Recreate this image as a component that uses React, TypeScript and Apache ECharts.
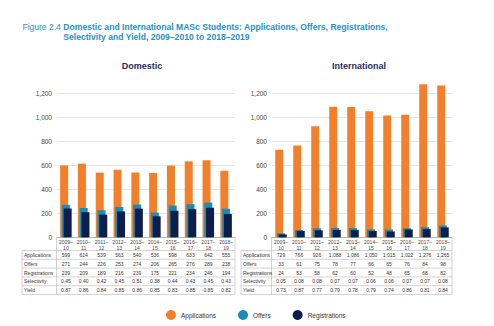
import React, { useEffect, useRef } from 'react';
import * as echarts from 'echarts';

const years = ['2009–\n10', '2010–\n11', '2011–\n12', '2012–\n13', '2013–\n14', '2014–\n15', '2015–\n16', '2016–\n17', '2017–\n18', '2018–\n19'];
const yTicks = [0, 200, 400, 600, 800, 1000, 1200];

const domApplications = [599, 614, 539, 563, 540, 536, 598, 633, 642, 555];
const domOffers = [271, 244, 226, 253, 274, 206, 265, 276, 289, 238];
const domRegistrations = [239, 209, 189, 216, 239, 175, 221, 234, 246, 194];
const domSelectivity = [0.45, 0.40, 0.42, 0.45, 0.51, 0.38, 0.44, 0.43, 0.45, 0.43];
const domYield = [0.87, 0.86, 0.84, 0.85, 0.86, 0.85, 0.83, 0.85, 0.85, 0.82];

const intApplications = [729, 766, 926, 1088, 1086, 1050, 1015, 1022, 1276, 1265];
const intOffers = [33, 61, 75, 78, 77, 66, 65, 76, 84, 98];
const intRegistrations = [24, 53, 58, 62, 60, 52, 48, 65, 68, 82];
const intSelectivity = [0.05, 0.08, 0.08, 0.07, 0.07, 0.06, 0.06, 0.07, 0.07, 0.08];
const intYield = [0.73, 0.87, 0.77, 0.79, 0.78, 0.79, 0.74, 0.86, 0.81, 0.84];

const rowNames = ['Applications', 'Offers', 'Registrations', 'Selectivity', 'Yield'];
const seriesNames = ['Applications', 'Offers', 'Registrations'];

const FONT = '"Liberation Sans", Arial, Helvetica, sans-serif';
const C_APP = '#f47f2a';
const C_OFF = '#1b8cb5';
const C_REG = '#0c1f4c';
const TITLE_BLUE = '#2a90c2';

export default function App() {
  const ref = useRef<HTMLDivElement>(null);
  useEffect(() => {
    const chart = echarts.init(ref.current!, null, { renderer: 'svg' });
    const grids = [
      { left: 57, top: 93.3, width: 178, height: 144 },
      { left: 272, top: 93.3, width: 180, height: 144 },
    ];
    const mkX = (g: number) => ({
      type: 'category' as const,
      gridIndex: g,
      data: years,
      axisTick: { show: false },
      axisLine: { show: true, lineStyle: { color: '#aaa', width: 0.8 } },
      axisLabel: { interval: 0, fontSize: 5, color: '#444', fontFamily: FONT, lineHeight: 5.6, margin: 2 },
    });
    const mkY = (g: number) => ({
      type: 'value' as const,
      gridIndex: g,
      min: yTicks[0],
      max: yTicks[yTicks.length - 1],
      interval: 200,
      axisLine: { show: false },
      axisTick: { show: false },
      splitLine: { lineStyle: { color: '#dedede', width: 0.8 } },
      axisLabel: {
        fontSize: 6.5, color: '#444', fontFamily: FONT, margin: 5,
        formatter: (v: number) => v.toLocaleString('en-US'),
      },
    });
    const groups = [
      [domApplications, domOffers, domRegistrations],
      [intApplications, intOffers, intRegistrations],
    ];
    const colors = [C_APP, C_OFF, C_REG];
    const series: any[] = [];
    groups.forEach((grp, g) => {
      grp.forEach((vals, k) => {
        series.push({
          type: 'bar', name: seriesNames[k], xAxisIndex: g, yAxisIndex: g,
          data: vals, barWidth: 8, barGap: '-78%', clip: false,
          itemStyle: { color: colors[k] },
        });
      });
    });
    chart.setOption({
      animation: false,
      backgroundColor: '#fff',
      grid: grids,
      xAxis: [mkX(0), mkX(1)],
      yAxis: [mkY(0), mkY(1)],
      legend: {
        data: seriesNames, left: 161, top: 305, icon: 'circle',
        itemWidth: 10, itemHeight: 10, itemGap: 22,
        textStyle: { fontSize: 6.5, color: '#333', fontFamily: FONT },
      },
      series,
    });

    const tables = [
      { rows: [domApplications, domOffers, domRegistrations, domSelectivity, domYield], labelLeft: 22 },
      { rows: [intApplications, intOffers, intRegistrations, intSelectivity, intYield], labelLeft: 241 },
    ];
    const graphic: any[] = [];
    const axisY = grids[0].top + grids[0].height;
    const rowTop = 250.5;
    const rowH = 8.8;
    tables.forEach((t, g) => {
      const gl = grids[g].left - 0.5;
      const gr = grids[g].left + grids[g].width;
      const lineStyle = { stroke: '#b5b5b5', lineWidth: 0.6 };
      for (let r = 0; r <= rowNames.length; r++) {
        const y = rowTop + r * rowH;
        graphic.push({ type: 'line', silent: true, shape: { x1: t.labelLeft, y1: y, x2: gr, y2: y }, style: lineStyle });
      }
      const bottom = rowTop + rowNames.length * rowH;
      graphic.push({ type: 'line', silent: true, shape: { x1: t.labelLeft, y1: rowTop, x2: t.labelLeft, y2: bottom }, style: lineStyle });
      graphic.push({ type: 'line', silent: true, shape: { x1: gl, y1: axisY, x2: gl, y2: bottom }, style: lineStyle });
      graphic.push({ type: 'line', silent: true, shape: { x1: gr, y1: axisY, x2: gr, y2: bottom }, style: lineStyle });
      rowNames.forEach((name, r) => {
        const cy = rowTop + (r + 0.5) * rowH;
        graphic.push({
          type: 'text', silent: true, x: t.labelLeft + 2, y: cy,
          style: { text: name, fontSize: 5, fill: '#333', fontFamily: FONT, align: 'left', verticalAlign: 'middle' },
        });
        t.rows[r].forEach((v, i) => {
          const px = chart.convertToPixel({ xAxisIndex: g }, i) as number;
          const txt = r < 3 ? v.toLocaleString('en-US') : v.toFixed(2);
          graphic.push({
            type: 'text', silent: true, x: px, y: cy,
            style: { text: txt, fontSize: 5, fill: '#333', fontFamily: FONT, align: 'center', verticalAlign: 'middle' },
          });
        });
      });
    });

    graphic.push({
      type: 'text', silent: true, x: 22.5, y: 26.7,
      style: { text: 'Figure 2.4', fontSize: 8.5, fill: TITLE_BLUE, fontFamily: FONT, align: 'left', verticalAlign: 'middle' },
    });
    graphic.push({
      type: 'text', silent: true, x: 63.3, y: 26.7,
      style: { text: 'Domestic and International MASc Students: Applications, Offers, Registrations,', fontSize: 8.6, fontWeight: 'bold', fill: TITLE_BLUE, fontFamily: FONT, align: 'left', verticalAlign: 'middle' },
    });
    graphic.push({
      type: 'text', silent: true, x: 63.3, y: 36.7,
      style: { text: 'Selectivity and Yield, 2009–2010 to 2018–2019', fontSize: 8.6, fontWeight: 'bold', fill: TITLE_BLUE, fontFamily: FONT, align: 'left', verticalAlign: 'middle' },
    });
    graphic.push({
      type: 'text', silent: true, x: 142, y: 66,
      style: { text: 'Domestic', fontSize: 9, fontWeight: 'bold', fill: '#1f2d5c', fontFamily: FONT, align: 'center', verticalAlign: 'middle' },
    });
    graphic.push({
      type: 'text', silent: true, x: 359, y: 66,
      style: { text: 'International', fontSize: 9, fontWeight: 'bold', fill: '#1f2d5c', fontFamily: FONT, align: 'center', verticalAlign: 'middle' },
    });

    chart.setOption({ graphic });
    return () => chart.dispose();
  }, []);
  return <div ref={ref} style={{ position: 'absolute', left: 0, top: 0, width: 494, height: 326 }} />;
}
